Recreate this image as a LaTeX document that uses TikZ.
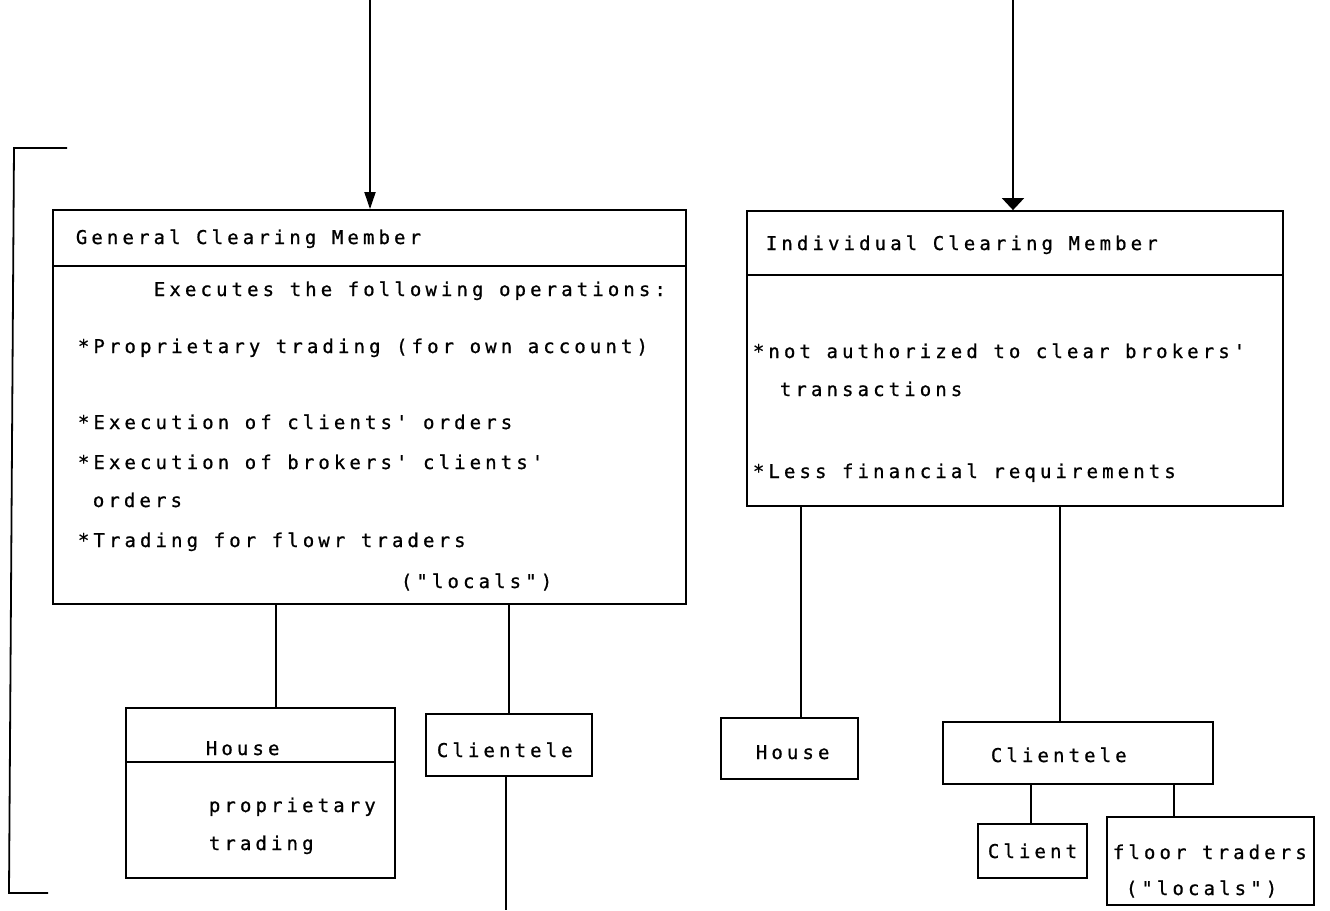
\documentclass[tikz,border=0pt]{standalone}
\usepackage{fontspec}
\usetikzlibrary{arrows.meta}
\newfontfamily\plotfont[LetterSpace=21.6,FakeBold=0.8]{DejaVu Sans Mono}
\begin{document}
\begin{tikzpicture}[x=1pt,y=-1pt,
  line width=1.8pt,
  box/.style={draw,rectangle,inner sep=0pt},
  label/.style={anchor=base west,inner sep=0pt,font=\plotfont\fontsize{19}{19}\selectfont},
  feed/.style={-{Triangle[length=17pt,width=11pt]}},
  feedwide/.style={-{Triangle[length=12pt,width=22pt]}}]
\useasboundingbox (0,0) rectangle (1330,910);

% ---------- main boxes ----------
\node[box,minimum width=633pt,minimum height=394pt] (gcm) at (369.5,407) {};
\node[box,minimum width=536pt,minimum height=295pt] (icm) at (1015,358.5) {};
\coordinate (gcmDiv) at (0,266);
\coordinate (icmDiv) at (0,275);
\draw (gcmDiv -| gcm.west) -- (gcmDiv -| gcm.east);
\draw (icmDiv -| icm.west) -- (icmDiv -| icm.east);

% ---------- incoming arrows ----------
\coordinate (inL) at (370,0);
\coordinate (inR) at (1013,0);
\draw[feed] (inL) -- (inL |- gcm.north);
\draw[feedwide] (inR) -- (inR |- icm.north);

% ---------- bracket on the left ----------
\coordinate (brA) at (67,148);
\coordinate (brB) at (14,148);
\coordinate (brC) at (9,893);
\coordinate (brD) at (48,893);
\draw (brA) -- (brB) -- (brC) -- (brD);

% ---------- general clearing member text ----------
\node[label] (gcmTitle) at (75,244) {General Clearing Member};
\node[label] (gcmT1) at (153,296) {Executes the following operations:};
\node[label] (gcmT2) at (77,353) {*Proprietary trading (for own account)};
\node[label] (gcmT3) at (77,429) {*Execution of clients' orders};
\node[label] (gcmT4) at (77,469) {*Execution of brokers' clients'};
\node[label] (gcmT5) at (92,507) {orders};
\node[label] (gcmT6) at (77,547) {*Trading for flowr traders};
\node[label] (gcmT7) at (400,588) {("locals")};

% ---------- individual clearing member text ----------
\node[label] (icmTitle) at (765,250) {Individual Clearing Member};
\node[label] (icmT1) at (752,358) {*not authorized to clear brokers'};
\node[label] (icmT2) at (779,396) {transactions};
\node[label] (icmT3) at (752,478) {*Less financial requirements};

% ---------- lower boxes ----------
\node[box,minimum width=269pt,minimum height=170pt] (houseL) at (260.5,793) {};
\coordinate (houseLDiv) at (0,762);
\draw (houseLDiv -| houseL.west) -- (houseLDiv -| houseL.east);
\node[label] (houseLT) at (205,755) {House};
\node[label] (houseLT1) at (208,812) {proprietary};
\node[label] (houseLT2) at (208,850) {trading};

\node[box,minimum width=166pt,minimum height=62pt] (cliL) at (509,745) {};
\node[label] (cliLT) at (436,757) {Clientele};

\node[box,minimum width=137pt,minimum height=61pt] (houseR) at (789.5,748.5) {};
\node[label] (houseRT) at (755,759) {House};

\node[box,minimum width=270pt,minimum height=62pt] (cliR) at (1078,753) {};
\node[label] (cliRT) at (990,762) {Clientele};

\node[box,minimum width=109pt,minimum height=54pt] (client) at (1032.5,851) {};
\node[label] (clientT) at (987,858) {Client};

\node[box,minimum width=207pt,minimum height=88pt] (floor) at (1210.5,861) {};
\node[label] (floorT1) at (1112,859) {floor traders};
\node[label] (floorT2) at (1125,895) {("locals")};

% ---------- connectors ----------
\coordinate (tapHL) at (276,0);
\coordinate (tapCL) at (509,0);
\coordinate (tailCL) at (506,910);
\coordinate (tapHR) at (801,0);
\coordinate (tapCR) at (1060,0);
\coordinate (tapCl) at (1031,0);
\coordinate (tapFl) at (1174,0);
\draw (tapHL |- gcm.south) -- (tapHL |- houseL.north);
\draw (tapCL |- gcm.south) -- (tapCL |- cliL.north);
\draw (tailCL |- cliL.south) -- (tailCL);
\draw (tapHR |- icm.south) -- (tapHR |- houseR.north);
\draw (tapCR |- icm.south) -- (tapCR |- cliR.north);
\draw (tapCl |- cliR.south) -- (tapCl |- client.north);
\draw (tapFl |- cliR.south) -- (tapFl |- floor.north);
\end{tikzpicture}
\end{document}
